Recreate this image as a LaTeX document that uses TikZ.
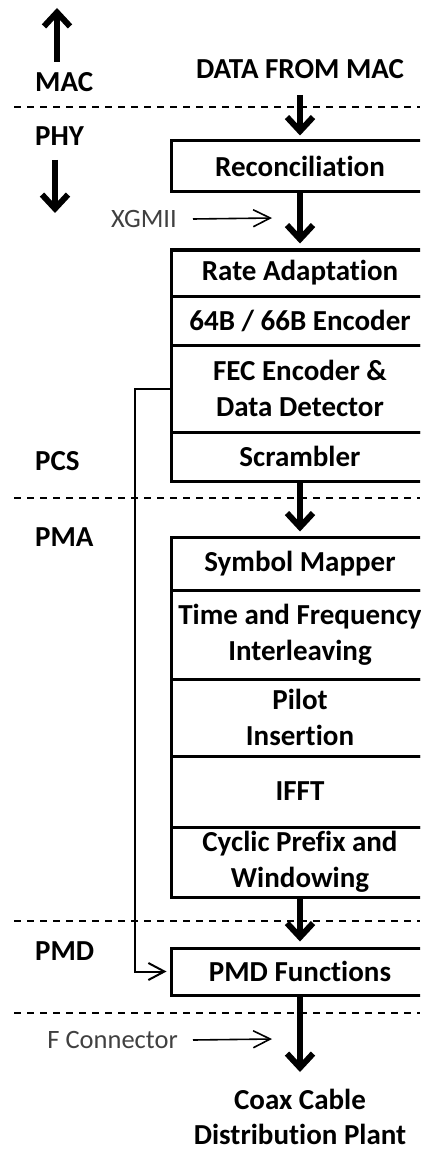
\documentclass[tikz,border=0pt]{standalone}
\usepackage{fontspec}
\setmainfont{Carlito}[Ligatures={NoCommon}]
\usetikzlibrary{arrows.meta}
\tikzset{
  blk/.style={draw, line width=3pt, minimum width=258pt, align=center,
    inner sep=2pt, font=\fontsize{29}{36}\selectfont\bfseries},
  lbl/.style={font=\fontsize{29}{35}\selectfont\bfseries, align=center, inner sep=0pt},
  side/.style={font=\fontsize{29}{36}\selectfont\bfseries, anchor=west, inner sep=0pt},
  small/.style={font=\fontsize{26.5}{32}\selectfont, text=black!75, inner sep=0pt},
  bigarrow/.style={line width=6pt, -{Straight Barb[length=14pt,width=26pt]}},
  thinarrow/.style={line width=1.6pt, -{Straight Barb[length=17pt,width=17pt]}},
  feed/.style={line width=2pt},
  sep/.style={line width=2pt, dash pattern=on 7pt off 6pt}
}
\begin{document}
\begin{tikzpicture}[x=1pt,y=-1pt]
\clip (0,0) rectangle (420,1150);
\fill[white] (0,0) rectangle (420,1150);

% separators
\draw[sep] (14,107) -- (420,107);
\draw[sep] (14,498) -- (420,498);
\draw[sep] (14,921) -- (420,921);
\draw[sep] (14,1013) -- (420,1013);

% side labels
\node[side] (mac) at (35,82) {MAC};
\node[side] (phy) at (35,136) {PHY};
\node[side] (pcs) at (35,461) {PCS};
\node[side] (pma) at (35,537) {PMA};
\node[side] (pmd) at (35,951) {PMD};
\coordinate (upS) at (57,62);
\coordinate (upE) at (57,8);
\coordinate (dnS) at (55,160);
\coordinate (dnE) at (55,213);
\draw[bigarrow] (upS) -- (upE);
\draw[bigarrow] (dnS) -- (dnE);

% top text
\node[lbl] (data) at (300,69) {DATA FROM MAC};

% boxes
\node[blk, minimum height=51pt] (recon) at (300,166.5) {Reconciliation};
\node[blk, minimum height=46pt] (rate) at (300,273) {Rate Adaptation};
\node[blk, minimum height=49pt] (enc) at (300,320.5) {64B / 66B Encoder};
\node[blk, minimum height=87pt] (fec) at (300,388.5) {FEC Encoder \&\\Data Detector};
\node[blk, minimum height=49pt] (scr) at (300,456.5) {Scrambler};
\node[blk, minimum height=53pt] (sym) at (300,563.5) {Symbol Mapper};
\node[blk, minimum height=89pt] (tfi) at (300,634.5) {Time and Frequency\\Interleaving};
\node[blk, minimum height=77pt] (pilot) at (300,717.5) {Pilot\\Insertion};
\node[blk, minimum height=71pt] (ifft) at (300,791.5) {IFFT};
\node[blk, minimum height=70pt] (cyc) at (300,862) {Cyclic Prefix and\\Windowing};
\node[blk, minimum height=47pt] (pmdf) at (300,971.5) {PMD Functions};

\node[lbl] (coax) at (300,1117) {Coax Cable\\Distribution Plant};

% main flow arrows
\coordinate (dataS) at (300,95);
\draw[bigarrow, shorten >=4pt] (dataS) -- (recon.north);
\draw[bigarrow, shorten >=5pt] (recon.south) -- (rate.north);
\draw[bigarrow, shorten >=4pt] (scr.south) -- (sym.north);
\draw[bigarrow, shorten >=5pt] (cyc.south) -- (pmdf.north);
\coordinate (coaxE) at (300,1072);
\draw[bigarrow] (pmdf.south) -- (coaxE);

% small labels
\node[small, anchor=east] (xgmii) at (177,219) {XGMII};
\coordinate (xgE) at (272,218);
\draw[thinarrow] ([xshift=16pt]xgmii.east) -- (xgE);
\node[small, anchor=east] (fcon) at (178,1040) {F Connector};
\coordinate (fcE) at (272,1039);
\draw[thinarrow] ([xshift=15pt]fcon.east) -- (fcE);

% feedback
\draw[feed, -{Straight Barb[length=16pt,width=17pt]}, shorten >=3pt]
  (fec.west) -- ++(-35,0) |- (pmdf.west);
\end{tikzpicture}
\end{document}
